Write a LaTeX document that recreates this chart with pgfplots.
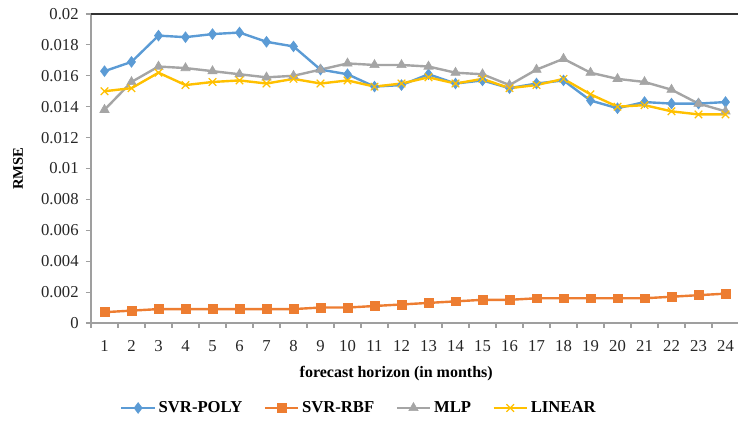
\documentclass[border=0pt]{standalone}
\usepackage{pgfplots}
\pgfplotsset{compat=1.18}
\usepackage{fontspec}
\setmainfont{Liberation Serif}
\definecolor{cpoly}{HTML}{5B9BD5}
\definecolor{crbf}{HTML}{ED7D31}
\definecolor{cmlp}{HTML}{A5A5A5}
\definecolor{clin}{HTML}{FFC000}
\begin{document}
\begin{tikzpicture}
\begin{axis}[
  scale only axis,
  width=486pt, height=231.75pt,
  xmin=0.5, xmax=24.5, ymin=0, ymax=0.02,
  axis lines*=left,
  axis line style={-, draw=gray!75, line width=0.8pt},
  tick pos=left, tick align=outside,
  xtick={1,...,24},
  major x tick style={draw=none},
  minor xtick={0.5,1.5,...,24.5},
  minor tick length=3.75pt,
  minor x tick style={draw=gray!75, line width=0.8pt},
  ytick={0,0.002,0.004,0.006,0.008,0.01,0.012,0.014,0.016,0.018,0.02},
  yticklabels={0,0.002,0.004,0.006,0.008,0.01,0.012,0.014,0.016,0.018,0.02},
  major tick length=3.75pt,
  y tick style={draw=gray!75, line width=0.8pt},
  scaled y ticks=false,
  /pgf/number format/assume math mode=true,
  tick label style={font=\fontsize{12.5}{14}\selectfont, text=black!85},
  xticklabel style={yshift=-6pt},
  yticklabel style={xshift=-2pt},
  xlabel={forecast horizon (in months)},
  xlabel style={font=\bfseries\fontsize{12}{14}\selectfont, at={(axis description cs:0.471,-0.165)}, anchor=center},
  ylabel={RMSE},
  ylabel style={font=\bfseries\fontsize{11}{13}\selectfont, at={(axis description cs:-0.1127,0.5)}, anchor=center, rotate=0},
  legend columns=4,
  legend style={draw=none, fill=none, at={(axis description cs:0.414,-0.275)}, anchor=center,
    font=\bfseries\fontsize{12.5}{14}\selectfont,
    /tikz/every even column/.append style={column sep=14pt},
    inner sep=0pt},
  legend image code/.code={\draw[mark repeat=2,mark phase=2] plot coordinates {(0pt,0pt)(12.5pt,0pt)(25pt,0pt)};},
  every axis plot/.append style={line width=1.8pt},
]
\addplot[color=cpoly, mark=diamond*, mark size=4pt, mark options={fill=cpoly, line width=0.5pt}] coordinates {
(1,0.0163)(2,0.0169)(3,0.0186)(4,0.0185)(5,0.0187)(6,0.0188)(7,0.0182)(8,0.0179)
(9,0.0164)(10,0.0161)(11,0.0153)(12,0.0154)(13,0.0161)(14,0.0155)(15,0.0157)(16,0.0152)
(17,0.0155)(18,0.0157)(19,0.0144)(20,0.0139)(21,0.0143)(22,0.0142)(23,0.0142)(24,0.0143)};
\addlegendentry{SVR-POLY}
\addplot[color=crbf, mark=square*, mark size=3.3pt, mark options={fill=crbf, line width=0.5pt}] coordinates {
(1,0.0007)(2,0.0008)(3,0.0009)(4,0.0009)(5,0.0009)(6,0.0009)(7,0.0009)(8,0.0009)
(9,0.0010)(10,0.0010)(11,0.0011)(12,0.0012)(13,0.0013)(14,0.0014)(15,0.0015)(16,0.0015)
(17,0.0016)(18,0.0016)(19,0.0016)(20,0.0016)(21,0.0016)(22,0.0017)(23,0.0018)(24,0.0019)};
\addlegendentry{SVR-RBF}
\addplot[color=cmlp, mark=triangle*, mark size=4pt, mark options={fill=cmlp, line width=0.5pt}] coordinates {
(1,0.0138)(2,0.0156)(3,0.0166)(4,0.0165)(5,0.0163)(6,0.0161)(7,0.0159)(8,0.0160)
(9,0.0164)(10,0.0168)(11,0.0167)(12,0.0167)(13,0.0166)(14,0.0162)(15,0.0161)(16,0.0154)
(17,0.0164)(18,0.0171)(19,0.0162)(20,0.0158)(21,0.0156)(22,0.0151)(23,0.0142)(24,0.0137)};
\addlegendentry{MLP}
\addplot[color=clin, mark=x, mark size=4pt, mark options={line width=0.9pt}] coordinates {
(1,0.0150)(2,0.0152)(3,0.0162)(4,0.0154)(5,0.0156)(6,0.0157)(7,0.0155)(8,0.0158)
(9,0.0155)(10,0.0157)(11,0.0153)(12,0.0155)(13,0.0159)(14,0.0155)(15,0.0158)(16,0.0152)
(17,0.0154)(18,0.0158)(19,0.0148)(20,0.0140)(21,0.0141)(22,0.0137)(23,0.0135)(24,0.0135)};
\addlegendentry{LINEAR}
\draw[black!80, line width=1pt] (rel axis cs:0,1) -- (rel axis cs:1,1);
\coordinate (O) at (rel axis cs:0,0);
\end{axis}
\pgfresetboundingbox
\path (O) ++(-68.25pt,-78pt) rectangle ++(553.5pt,320.25pt);
\end{tikzpicture}
\end{document}
